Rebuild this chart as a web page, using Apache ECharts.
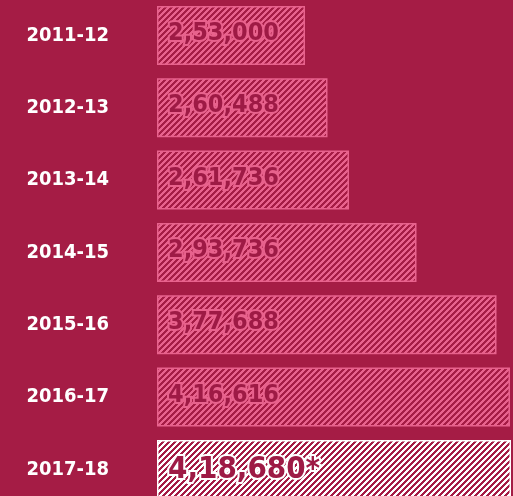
<!DOCTYPE html>
<html>
<head>
<meta charset="utf-8">
<script src="https://cdn.jsdelivr.net/npm/echarts@6/dist/echarts.min.js"></script>
<style>
html,body{margin:0;padding:0;background:#A51C45;}
#chart{width:513px;height:496px;}
</style>
</head>
<body>
<div id="chart"></div>
<script>
// Data
var years = ['2011-12', '2012-13', '2013-14', '2014-15', '2015-16', '2016-17', '2017-18'];
var valueLabels = ['2,53,000', '2,60,488', '2,61,736', '2,93,736', '3,77,688', '4,16,616', '4,18,680*'];
// bar lengths as drawn in the picture (not proportional to the labels)
var barLengths = [148, 170.5, 192, 259.5, 339.5, 353, 354];
var highlightIndex = 6;

var BG = '#A51C45';
var PINK = '#E8628D';
var WHITE = '#FFFFFF';

function hatch(lineColor) {
  var s = 6;
  var c = document.createElement('canvas');
  c.width = s; c.height = s;
  var ctx = c.getContext('2d');
  ctx.fillStyle = BG;
  ctx.fillRect(0, 0, s, s);
  ctx.fillStyle = lineColor;
  for (var y = 0; y < s; y++) {
    for (var x = 0; x < s; x++) {
      var m = (x + y) % s;
      if (m <= 2) ctx.fillRect(x, y, 1, 1);
    }
  }
  return { image: c, repeat: 'repeat' };
}

var pinkHatch = hatch(PINK);
var whiteHatch = hatch(WHITE);

var data = barLengths.map(function (v, i) {
  var hi = i === highlightIndex;
  return {
    value: v,
    itemStyle: {
      color: hi ? whiteHatch : pinkHatch,
      borderColor: hi ? WHITE : PINK,
      borderWidth: 1.5
    },
    label: {
      formatter: valueLabels[i],
      fontSize: hi ? 31 : 25,
      color: '#9E1A45',
      textBorderColor: hi ? WHITE : PINK,
      textBorderWidth: 4,
      offset: hi ? [0, 1] : [0, -2]
    }
  };
});

var chart = echarts.init(document.getElementById('chart'), null, { renderer: 'canvas' });
chart.setOption({
  backgroundColor: BG,
  animation: false,
  grid: { left: 157, width: 356, top: -0.7, height: 506.3, containLabel: false, outerBoundsMode: 'none' },
  xAxis: {
    type: 'value', min: 0, max: 356,
    show: false
  },
  yAxis: {
    type: 'category', data: years, inverse: true,
    axisLine: { show: false }, axisTick: { show: false }, splitLine: { show: false },
    axisLabel: {
      color: '#FFFFFF', fontWeight: 'bold', fontSize: 20,
      fontFamily: '"DejaVu Sans Condensed", "DejaVu Sans", sans-serif',
      align: 'right', margin: 48
    }
  },
  series: [{
    type: 'bar',
    data: data,
    barWidth: 59,
    label: {
      show: true,
      position: 'insideLeft',
      distance: 11,
      fontWeight: 'bold',
      fontFamily: '"DejaVu Sans Condensed", "DejaVu Sans", sans-serif'
    }
  }]
});
</script>
</body>
</html>
